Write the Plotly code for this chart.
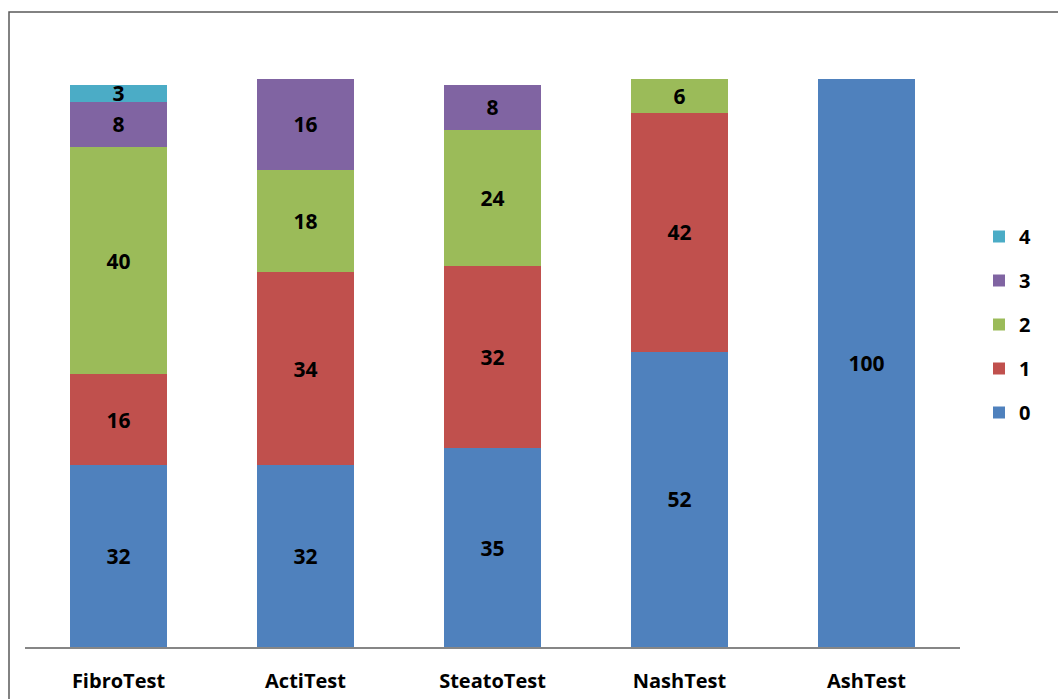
import plotly.graph_objects as go

categories = ["FibroTest", "ActiTest", "SteatoTest", "NashTest", "AshTest"]
series_names = ["0", "1", "2", "3", "4"]
s0 = [32, 32, 35, 52, 100]
s1 = [16, 34, 32, 42, None]
s2 = [40, 18, 24, 6, None]
s3 = [8, 16, 8, None, None]
s4 = [3, None, None, None, None]
series_values = [s0, s1, s2, s3, s4]
colors = ["#4F81BD", "#C0504D", "#9BBB59", "#8064A2", "#4BACC6"]

FONT = "Open Sans"
W, H = 1058, 699
L, R, T, B = 25, 98, 79, 52

fig = go.Figure()
n = len(series_names)
for i, (name, vals, col) in enumerate(zip(series_names, series_values, colors)):
    fig.add_trace(go.Bar(
        x=categories, y=vals, name=name, legendgroup=name, legendrank=n - i,
        marker=dict(color=col, line=dict(width=0)),
        text=[("" if v is None else str(v)) for v in vals],
        textposition="inside", insidetextanchor="middle", textangle=0,
        textfont=dict(family=FONT, size=21, color="black", weight="bold"),
        hoverinfo="skip",
    ))

pw = W - L - R
ph = H - T - B
fig.update_layout(
    width=W, height=H,
    margin=dict(l=L, r=R, t=T, b=B, autoexpand=False),
    barmode="stack", bargap=0.48,
    plot_bgcolor="white", paper_bgcolor="white",
    uniformtext=dict(minsize=21, mode="show"),
    xaxis=dict(showline=True, linecolor="#868686", linewidth=1.5, ticks="",
               showgrid=False, zeroline=False, automargin=False,
               tickfont=dict(family=FONT, size=20, color="black", weight="bold"),
               ticklabelstandoff=15),
    yaxis=dict(range=[0, 100], visible=False, showgrid=False, automargin=False),
    legend=dict(x=(979 - L) / pw, y=(647 - 217) / ph, xanchor="left", yanchor="top",
                traceorder="grouped", tracegroupgap=15,
                font=dict(family=FONT, size=20, color="black", weight="bold"),
                itemwidth=30, bgcolor="rgba(0,0,0,0)"),
    showlegend=True,
    shapes=[dict(type="rect", xref="paper", yref="paper",
                 x0=(9 - L) / pw, x1=(1200 - L) / pw,
                 y0=(647 - 760) / ph, y1=(647 - 12) / ph,
                 line=dict(color="#595959", width=1.5), layer="below")],
)
fig.write_html("out.html", config={"displayModeBar": False},
               post_script="document.body.style.margin='0';")
